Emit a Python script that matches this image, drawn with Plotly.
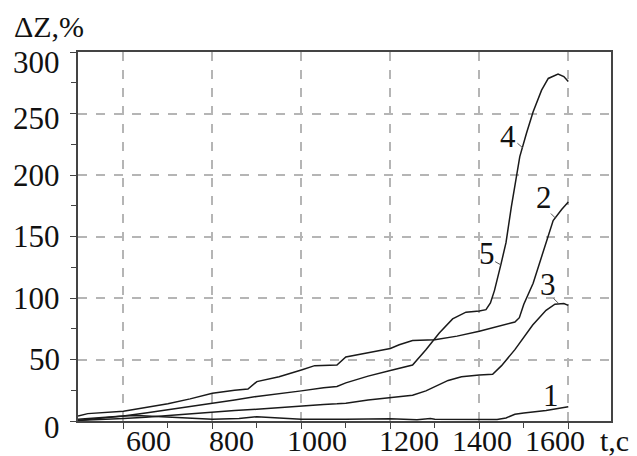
import plotly.graph_objects as go

# Curve 1
x1 = [498, 530, 560, 600, 630, 680, 750, 800, 860, 900, 920, 960, 1000, 1100, 1200, 1260, 1290, 1300, 1350, 1400, 1440, 1460, 1480, 1500, 1550, 1600]
y1 = [0.5, 1.5, 3, 4, 4.5, 3.5, 2, 1.5, 2, 3.5, 3, 2, 1.5, 1.5, 1.8, 1, 2, 1.5, 1.2, 1, 1.2, 2.5, 5.5, 6.5, 8.5, 11.5]

# Curve 2
x2 = [498, 520, 600, 650, 700, 750, 800, 850, 880, 900, 950, 1000, 1030, 1080, 1100, 1150, 1200, 1220, 1250, 1300, 1350, 1400, 1450, 1480, 1490, 1500, 1521, 1547, 1566, 1585, 1600]
y2 = [4, 6, 8, 11, 14, 18, 22.5, 25, 26, 32, 36, 41.5, 45, 45.5, 52, 55.5, 59, 62, 65.5, 66, 69, 73, 78, 80.5, 84, 95, 112, 141, 163, 172, 178]

# Curve 3
x3 = [498, 550, 600, 650, 700, 750, 800, 850, 900, 950, 1000, 1050, 1080, 1100, 1150, 1200, 1250, 1280, 1300, 1330, 1360, 1400, 1430, 1450, 1480, 1500, 1520, 1550, 1570, 1590, 1600]
y3 = [0.5, 1, 2, 3, 4.5, 6, 7.5, 8.5, 9.5, 11, 12, 13.5, 14, 14.5, 17, 19, 21, 24.5, 28, 33, 36, 37.5, 38, 45, 58, 68.5, 78, 90, 95, 95.5, 94]

# Curve 4 (and 5)
x4 = [498, 550, 600, 650, 700, 750, 800, 850, 900, 950, 1000, 1050, 1080, 1100, 1150, 1200, 1250, 1280, 1310, 1340, 1370, 1400, 1415, 1425, 1434, 1449, 1460, 1472, 1491, 1506, 1521, 1540, 1555, 1577, 1590, 1600]
y4 = [1.5, 2.5, 4, 6.5, 9, 11.5, 14, 17, 20, 22, 24.5, 27, 28, 31, 36.5, 41, 45.5, 58, 71.5, 83, 88.5, 89.5, 90.5, 96, 106, 128, 145, 174, 215, 234, 251.5, 269, 278.5, 282, 280, 276]

x_ticks = [600, 800, 1000, 1200, 1400, 1600]
y_ticks = [0, 50, 100, 150, 200, 250, 300]

# horizontal offsets (px) of x tick labels as printed in the source
x_label_shift = [25, 19, 16, 19, 3, -13]
# vertical offsets (px, positive = down) of y tick labels
y_label_shift = [6.5, 0, 0, 0, 0, 5, 10.5]

# curve labels: text, anchor x, anchor y, text dx, text dy, leader dx, leader dy (px)
labels = [
    ("4", 1498, 222, -15, -11, -7, -6),
    ("2", 1571, 165, -11, -21, -6, -6),
    ("5", 1448, 127, -14, -11, -7, -4),
    ("3", 1577, 96, -10, -18, -6, -6),
    ("1", 1562, 21, 0, 0, 0, 0),
]

SERIF = "Liberation Serif"
LINE = "#1a1a1a"
TXT = "#111"
FS = 31

fig = go.Figure()
for xs, ys in [(x1, y1), (x2, y2), (x3, y3), (x4, y4)]:
    fig.add_trace(go.Scatter(x=xs, y=ys, mode="lines",
                             line=dict(color=LINE, width=1.5),
                             showlegend=False, hoverinfo="skip"))

for txt, tx, ty, dx, dy, lx, ly in labels:
    fig.add_annotation(x=tx, y=ty, xref="x", yref="y", text=txt,
                       showarrow=False, xshift=dx, yshift=-dy,
                       font=dict(family=SERIF, size=FS, color=TXT))
    if lx or ly:
        fig.add_annotation(x=tx, y=ty, xref="x", yref="y", text="",
                           showarrow=True, arrowhead=0, arrowwidth=1,
                           arrowcolor="#555", ax=lx, ay=ly, standoff=0)

# x tick labels
for v, s in zip(x_ticks, x_label_shift):
    fig.add_annotation(x=v, y=0, xref="x", yref="paper", text=str(v),
                       showarrow=False, xanchor="center", yanchor="middle",
                       xshift=s, yshift=-19,
                       font=dict(family=SERIF, size=30, color=TXT))
# y tick labels
for v, s in zip(y_ticks, y_label_shift):
    fig.add_annotation(x=0, y=v, xref="paper", yref="y", text=str(v),
                       showarrow=False, xanchor="right", yanchor="middle",
                       xshift=-16, yshift=-s,
                       font=dict(family=SERIF, size=FS, color=TXT))

fig.add_annotation(x=-0.124, y=1.069, xref="paper", yref="paper",
                   xanchor="left", yanchor="middle", text="ΔZ,%",
                   showarrow=False,
                   font=dict(family=SERIF, size=30, color=TXT))
fig.add_annotation(x=1.038, y=0, xref="paper", yref="paper",
                   xanchor="right", yanchor="middle", text="t,c",
                   showarrow=False, yshift=-19,
                   font=dict(family=SERIF, size=30, color=TXT))

fig.update_xaxes(range=[498, 1696], tickvals=x_ticks, showticklabels=False,
                 showgrid=True, gridcolor="#b5b5b5", gridwidth=1.5, griddash="dash",
                 showline=True, linecolor="#444", linewidth=2, mirror=True,
                 ticks="outside", ticklen=6, tickcolor="#444",
                 minor=dict(tickvals=[700, 900, 1100, 1300, 1500], ticks="outside",
                            ticklen=5, tickcolor="#444", showgrid=False),
                 zeroline=False)
fig.update_yaxes(range=[0, 300], tickvals=y_ticks, showticklabels=False,
                 showgrid=True, gridcolor="#b5b5b5", gridwidth=1.5, griddash="dash",
                 showline=True, linecolor="#444", linewidth=2, mirror=True,
                 ticks="outside", ticklen=6, tickcolor="#444",
                 minor=dict(tickvals=[25, 75, 125, 175, 225, 275], ticks="outside",
                            ticklen=5, tickcolor="#444", showgrid=False),
                 zeroline=False)

# the page body adds an 8 px margin, so the figure is 8 px smaller each way
fig.update_layout(width=629, height=448,
                  margin=dict(l=70, r=26, t=44, b=35),
                  plot_bgcolor="white", paper_bgcolor="white")

fig.write_html("out.html")
